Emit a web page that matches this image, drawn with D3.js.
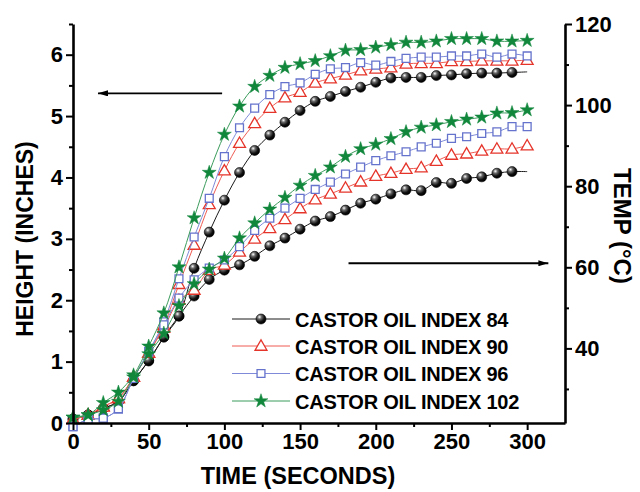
<!DOCTYPE html>
<html><head><meta charset="utf-8">
<script src="https://cdn.jsdelivr.net/npm/d3@7"></script>
<style>
body{margin:0;background:#fff}
svg{display:block}
text{font-family:"Liberation Sans",Arial,Helvetica,sans-serif;font-weight:bold;fill:#000}
</style>
</head><body>
<svg id="chart" width="640" height="492"></svg>
<script>
// ---------- DATA ----------
const TIME = [0,10,20,30,40,50,60,70,80,90,100,110,120,130,140,150,160,170,180,190,200,210,220,230,240,250,260,270,280,290,300];

const SERIES_NAMES = ["CASTOR OIL INDEX 84","CASTOR OIL INDEX 90","CASTOR OIL INDEX 96","CASTOR OIL INDEX 102"];

// Height (inches), left axis
const HEIGHT_84  = [0.06,0.13,0.24,0.35,0.69,1.01,1.40,1.74,2.52,3.11,3.63,4.08,4.44,4.69,4.90,5.09,5.24,5.32,5.40,5.47,5.55,5.62,5.63,5.63,5.66,5.67,5.69,5.70,5.70,5.71,5.72];
const HEIGHT_90  = [0.06,0.13,0.27,0.40,0.75,1.14,1.59,2.26,2.90,3.56,4.11,4.56,4.88,5.13,5.30,5.39,5.54,5.61,5.67,5.74,5.77,5.79,5.85,5.86,5.86,5.89,5.89,5.90,5.90,5.90,5.91];
const HEIGHT_96  = [-0.06,0.06,0.08,0.23,0.73,1.16,1.65,2.35,3.03,3.66,4.34,4.81,5.13,5.35,5.48,5.54,5.68,5.77,5.79,5.87,5.83,5.89,5.94,5.96,5.96,5.98,5.98,6.01,5.96,6.01,5.98];
const HEIGHT_102 = [0.09,0.13,0.33,0.50,0.78,1.25,1.79,2.54,3.34,4.08,4.70,5.16,5.48,5.66,5.79,5.85,5.90,5.98,6.07,6.08,6.12,6.16,6.20,6.20,6.22,6.26,6.26,6.26,6.22,6.22,6.23];

// Temperature (°C), right axis
const TEMP_84  = [22.6,23.6,25.2,26.9,32.0,37.0,42.8,48.0,52.9,57.0,59.3,60.6,62.7,65.3,67.2,69.4,71.4,72.5,74.1,75.8,76.8,78.1,79.1,78.9,80.9,80.7,81.9,82.3,83.2,83.6,83.6];
const TEMP_90  = [22.5,23.6,25.6,27.7,32.9,38.9,45.0,51.9,54.4,59.3,60.6,63.8,67.0,69.6,71.8,74.5,76.7,78.1,79.6,81.1,82.5,83.2,84.2,84.6,86.2,87.7,88.0,88.7,89.2,89.2,90.0];
const TEMP_96  = [20.7,22.5,22.8,25.1,32.6,39.2,45.8,52.4,56.9,59.8,61.8,65.1,69.1,72.1,74.6,77.0,79.2,81.0,83.0,84.7,86.3,87.5,88.5,89.7,90.6,91.8,92.2,93.0,93.4,94.7,94.7];
const TEMP_102 = [23.0,23.6,24.8,26.9,32.9,38.6,43.7,50.5,55.9,59.5,62.2,67.2,70.9,74.3,77.2,80.2,82.6,84.7,87.3,89.2,90.3,91.7,93.4,94.5,95.1,95.9,96.5,97.0,98.0,98.1,98.8];

// Last time with a marker for the index-84 curves (line continues to 300)
const LAST_MARKER_84 = 290;

// Axis ticks
const X_MAJOR = [0,50,100,150,200,250,300];
const X_MINOR = [25,75,125,175,225,275];
const YL_MAJOR = [0,1,2,3,4,5,6];
const YL_MINOR = [0.5,1.5,2.5,3.5,4.5,5.5,6.5];
const YR_MAJOR = [40,60,80,100,120];
const YR_MINOR = [30,50,70,90,110];

// ---------- LAYOUT ----------
const svg = d3.select("#chart");
const L = 73, R = 565, T = 24, B = 423;

const x  = d3.scaleLinear().domain([0,325]).range([L,R]);
const yL = d3.scaleLinear().domain([0,6.5]).range([B,T]);
const yR = d3.scaleLinear().domain([21.6,120]).range([B,T]);

const styles = [
  {line:"#1a1a1a", kind:"sphere"},
  {line:"#ef5b52", stroke:"#e5352b", kind:"triangle"},
  {line:"#7f8bd8", stroke:"#6573cc", kind:"square"},
  {line:"#3b9c5c", fill:"#11873c", kind:"star"}
];

const defs = svg.append("defs");
const grad = defs.append("radialGradient").attr("id","ball").attr("cx","35%").attr("cy","30%").attr("r","70%");
grad.append("stop").attr("offset","0%").attr("stop-color","#ffffff");
grad.append("stop").attr("offset","30%").attr("stop-color","#6a6a6a");
grad.append("stop").attr("offset","70%").attr("stop-color","#101010");
grad.append("stop").attr("offset","100%").attr("stop-color","#000000");

function drawMarker(g, kind, st, cx, cy) {
  if (kind === "sphere") {
    g.append("circle").attr("cx",cx).attr("cy",cy).attr("r",5)
      .attr("fill","url(#ball)").attr("stroke","#000").attr("stroke-width",0.6);
  } else if (kind === "triangle") {
    g.append("path").attr("d", d3.symbol(d3.symbolTriangle, 62)())
      .attr("transform",`translate(${cx},${cy+0.8})`)
      .attr("fill","#fff").attr("stroke",st.stroke).attr("stroke-width",1.3);
  } else if (kind === "square") {
    g.append("path").attr("d", d3.symbol(d3.symbolSquare, 62)())
      .attr("transform",`translate(${cx},${cy})`)
      .attr("fill","#fff").attr("stroke",st.stroke).attr("stroke-width",1.3);
  } else {
    g.append("path").attr("d", d3.symbol(d3.symbolStar, 60)())
      .attr("transform",`translate(${cx},${cy})`)
      .attr("fill",st.fill).attr("stroke",st.fill).attr("stroke-width",0.5);
  }
}

const heights = [HEIGHT_84, HEIGHT_90, HEIGHT_96, HEIGHT_102];
const temps   = [TEMP_84, TEMP_90, TEMP_96, TEMP_102];

const plot = svg.append("g");
heights.forEach((hs, i) => {
  const st = styles[i];
  const g = plot.append("g");
  [[hs, yL], [temps[i], yR]].forEach(([vals, ys]) => {
    const pts = TIME.map((t, k) => [t, vals[k]]);
    const line = d3.line().x(d => x(d[0])).y(d => ys(d[1])).curve(d3.curveCatmullRom.alpha(0.5));
    g.append("path").attr("d", line(pts)).attr("fill","none")
      .attr("stroke", st.line).attr("stroke-width", 1);
    pts.forEach(d => {
      if (i === 0 && d[0] > LAST_MARKER_84) return;
      drawMarker(g, st.kind, st, x(d[0]), ys(d[1]));
    });
  });
});

// ---------- AXES ----------
function styleAxis(g) {
  g.selectAll(".domain").attr("stroke","#000").attr("stroke-width",2.6);
  g.selectAll(".tick line").attr("stroke","#000").attr("stroke-width",2);
  g.selectAll(".tick text").style("font-size","22px").style("font-weight","bold")
    .style("font-family",'"Liberation Sans",Arial,sans-serif').attr("fill","#000");
}

// bottom
const gxm = svg.append("g").attr("transform",`translate(0,${B})`)
  .call(d3.axisBottom(x).tickValues(X_MINOR).tickSize(4).tickSizeOuter(0).tickFormat(""));
gxm.select(".domain").remove();
styleAxis(gxm);
const gx = svg.append("g").attr("transform",`translate(0,${B})`)
  .call(d3.axisBottom(x).tickValues(X_MAJOR).tickSize(7).tickSizeOuter(0).tickPadding(3).tickFormat(d3.format("d")));
styleAxis(gx);

// left
const gylm = svg.append("g").attr("transform",`translate(${L},0)`)
  .call(d3.axisLeft(yL).tickValues(YL_MINOR).tickSize(4).tickSizeOuter(0).tickFormat(""));
gylm.select(".domain").remove();
styleAxis(gylm);
const gyl = svg.append("g").attr("transform",`translate(${L},0)`)
  .call(d3.axisLeft(yL).tickValues(YL_MAJOR).tickSize(7).tickSizeOuter(0).tickPadding(3).tickFormat(d3.format("d")));
styleAxis(gyl);

// right
const gyrm = svg.append("g").attr("transform",`translate(${R},0)`)
  .call(d3.axisRight(yR).tickValues(YR_MINOR).tickSize(4).tickSizeOuter(0).tickFormat(""));
gyrm.select(".domain").remove();
styleAxis(gyrm);
const gyr = svg.append("g").attr("transform",`translate(${R},0)`)
  .call(d3.axisRight(yR).tickValues(YR_MAJOR).tickSize(7).tickSizeOuter(0).tickPadding(3).tickFormat(d3.format("d")));
styleAxis(gyr);

// ---------- TITLES ----------
svg.append("text").attr("x",298).attr("y",484).attr("text-anchor","middle")
  .style("font-size","23.5px").text("TIME (SECONDS)");
svg.append("text").attr("transform","translate(33,239) rotate(-90)").attr("text-anchor","middle")
  .style("font-size","23px").text("HEIGHT (INCHES)");
svg.append("text").attr("transform","translate(614,226) rotate(90)").attr("text-anchor","middle")
  .style("font-size","24px").text("TEMP (°C)");

// ---------- ARROWS ----------
defs.append("marker").attr("id","ah").attr("viewBox","0 0 10 6").attr("refX",10).attr("refY",3)
  .attr("markerWidth",10).attr("markerHeight",6).attr("markerUnits","userSpaceOnUse").attr("orient","auto")
  .append("path").attr("d","M0,0 L10,3 L0,6 Z").attr("fill","#000");
svg.append("line").attr("x1",x(98.5)).attr("x2",x(16.5)).attr("y1",yL(5.37)).attr("y2",yL(5.37))
  .attr("stroke","#000").attr("stroke-width",1.8).attr("marker-end","url(#ah)");
svg.append("line").attr("x1",x(182)).attr("x2",x(314)).attr("y1",yR(61)).attr("y2",yR(61))
  .attr("stroke","#000").attr("stroke-width",2).attr("marker-end","url(#ah)");

// ---------- LEGEND ----------
const legRows = [319, 346, 373.5, 401];
SERIES_NAMES.forEach((name, i) => {
  const st = styles[i];
  const g = svg.append("g");
  g.append("line").attr("x1",232).attr("x2",290).attr("y1",legRows[i]).attr("y2",legRows[i])
    .attr("stroke",st.line).attr("stroke-width",1);
  drawMarker(g, st.kind, st, 261, legRows[i]);
  g.append("text").attr("x",295).attr("y",legRows[i]+7.5).style("font-size","20px")
    .style("letter-spacing","-0.2px").text(name);
});
</script>
</body></html>
